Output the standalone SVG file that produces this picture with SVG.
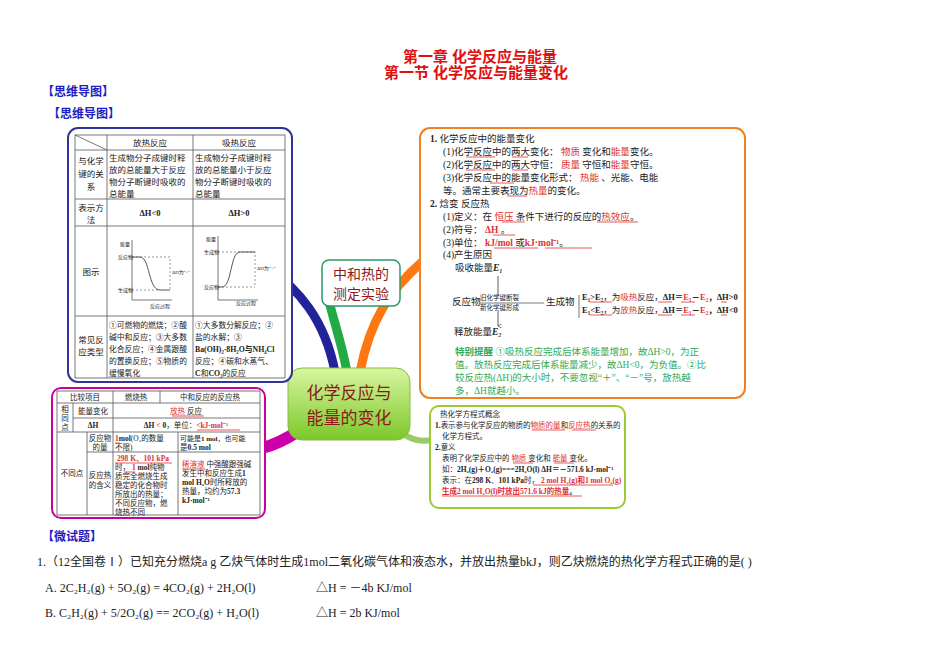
<svg xmlns="http://www.w3.org/2000/svg" width="950" height="672" viewBox="0 0 950 672">
<defs>
<style>
.t{font-family:"Liberation Serif","Noto Sans CJK SC",serif;fill:#222}
.s{font-size:9.5px}
.ls{font-size:8.5px}
.xs{font-size:7.5px}
.r{fill:#e03030}
.b{font-weight:bold}
.ln{stroke:#555;stroke-width:0.8;fill:none}
.u{stroke:#e03030;stroke-width:0.8}
.h{font-family:"Liberation Sans","Noto Sans CJK SC",sans-serif;font-weight:bold}
</style>
<linearGradient id="cg" x1="0" y1="0" x2="0" y2="1"><stop offset="0" stop-color="#d8f5a0"/><stop offset="1" stop-color="#7cc82a"/></linearGradient>
<marker id="ar" markerWidth="6" markerHeight="6" refX="3" refY="5" orient="auto"><path d="M0,0 L3,5 L6,0" fill="none" stroke="#333" stroke-width="0.8"/></marker>
</defs>
<rect width="950" height="672" fill="#fff"/>
<text class="h" x="480" y="62" font-size="15" fill="#e01010" text-anchor="middle">第一章  化学反应与能量</text>
<text class="h" x="476" y="78" font-size="15" fill="#e01010" text-anchor="middle">第一节  化学反应与能量变化</text>
<text class="h" x="42" y="96" font-size="12" fill="#2020c0">【思维导图】</text>
<text class="h" x="48" y="118" font-size="12" fill="#2020c0">【思维导图】</text>

<g id="connectors" fill="none" stroke-linecap="round">
<path d="M335,372 C325,320 300,290 262,262" stroke="#22229a" stroke-width="9"/>
<path d="M347,372 C342,345 335,325 330,305" stroke="#22aa44" stroke-width="9"/>
<path d="M360,372 C370,320 390,290 422,262" stroke="#ff7711" stroke-width="9"/>
<path d="M300,430 C285,440 275,445 262,448" stroke="#cc00aa" stroke-width="12"/>
<path d="M400,432 C412,440 420,442 432,440" stroke="#99cc66" stroke-width="6"/>
</g>

<g id="center">
<rect x="288" y="368" width="122" height="72" rx="14" fill="url(#cg)" stroke="#88bb44"/>
<text class="t" x="349" y="399" font-size="17" text-anchor="middle" style="fill:#8b1a1a">化学反应与</text>
<text class="t" x="349" y="424" font-size="17" text-anchor="middle" style="fill:#8b1a1a">能量的变化</text>
</g>
<g id="node-zhh">
<rect x="322" y="260" width="78" height="46" rx="7" fill="#fff" stroke="#2a9a6a" stroke-width="1.5"/>
<text class="t" x="361" y="279" font-size="14" text-anchor="middle" style="fill:#8b1a1a">中和热的</text>
<text class="t" x="361" y="299" font-size="14" text-anchor="middle" style="fill:#8b1a1a">测定实验</text>
</g>

<g id="box-left">
<rect x="68" y="128" width="224" height="254" rx="10" fill="#fff" stroke="#333399" stroke-width="2"/>
<rect x="75" y="135" width="210" height="243" class="ln"/>
<path class="ln" d="M107,135V378M193,135V378M75,150H285M75,199H285M75,226H285M75,316H285M75,135L107,150"/>
<g class="t ls">
<text x="150" y="146" text-anchor="middle">放热反应</text>
<text x="239" y="146" text-anchor="middle">吸热反应</text>
<text x="91" y="164" text-anchor="middle">与化学</text>
<text x="91" y="177" text-anchor="middle">键的关</text>
<text x="91" y="190" text-anchor="middle">系</text>
<text x="109" y="161">生成物分子成键时释</text>
<text x="109" y="173">放的总能量大于反应</text>
<text x="109" y="185">物分子断键时吸收的</text>
<text x="109" y="197">总能量</text>
<text x="195" y="161">生成物分子成键时释</text>
<text x="195" y="173">放的总能量小于反应</text>
<text x="195" y="185">物分子断键时吸收的</text>
<text x="195" y="197">总能量</text>
<text x="91" y="211" text-anchor="middle">表示方</text>
<text x="91" y="223" text-anchor="middle">法</text>
<text x="150" y="216" text-anchor="middle" class="b">ΔH&lt;0</text>
<text x="239" y="216" text-anchor="middle" class="b">ΔH&gt;0</text>
<text x="91" y="275" text-anchor="middle">图示</text>
<text x="91" y="343" text-anchor="middle">常见反</text>
<text x="91" y="355" text-anchor="middle">应类型</text>
</g>
<g class="t" font-size="7.8">
<text x="109" y="328">①可燃物的燃烧；②酸</text>
<text x="109" y="340">碱中和反应；③大多数</text>
<text x="109" y="352">化合反应；④金属跟酸</text>
<text x="109" y="364">的置换反应；⑤物质的</text>
<text x="109" y="376">缓慢氧化</text>
<text x="195" y="328">①大多数分解反应；②</text>
<text x="195" y="340">盐的水解；③</text>
<text x="195" y="352" class="b">Ba(OH)₂·8H₂O与NH₄Cl</text>
<text x="195" y="364">反应；④碳和水蒸气、</text>
<text x="195" y="376"><tspan class="b">C</tspan>和<tspan class="b">CO₂</tspan>的反应</text>
</g>
<path class="ln" d="M132,300V240M132,300H172" stroke="#333"/>
<path d="M132,257H140C150,257 148,290 160,290H170" fill="none" stroke="#555"/>
<path d="M132,257H170V290M132,290H160" fill="none" stroke="#555" stroke-dasharray="2,2" stroke-width="0.6"/>
<text class="t" x="120" y="246" font-size="5">能量</text>
<text class="t" x="118" y="259" font-size="5">反应物</text>
<text class="t" x="118" y="292" font-size="5">生成物</text>
<text class="t" x="150" y="308" font-size="5">反应过程</text>
<text class="t" x="172" y="274" font-size="5">ΔH为"-"</text>
<path class="ln" d="M218,300V236M218,300H258" stroke="#333"/>
<path d="M218,287H222C232,287 230,252 240,252H255" fill="none" stroke="#555"/>
<path d="M218,252H255V287M218,287H255" fill="none" stroke="#555" stroke-dasharray="2,2" stroke-width="0.6"/>
<text class="t" x="206" y="241" font-size="5">能量</text>
<text class="t" x="204" y="254" font-size="5">生成物</text>
<text class="t" x="204" y="289" font-size="5">反应物</text>
<text class="t" x="236" y="305" font-size="5">反应过程</text>
<text class="t" x="257" y="270" font-size="5">ΔH为"+"</text>
</g>

<g id="box-right">
<rect x="420" y="128" width="325" height="270" rx="10" fill="#fff" stroke="#f08020" stroke-width="2"/>
<g class="t s">
<text x="430" y="142"><tspan class="b">1.</tspan> 化学反应中的能量变化</text>
<text x="443" y="155">(1)化学反应中的两大变化：<tspan class="r">  物质 </tspan>变化和<tspan class="r">能量</tspan>变化。</text>
<text x="443" y="168">(2)化学反应中的两大守恒：<tspan class="r">  质量 </tspan>守恒和<tspan class="r">能量</tspan>守恒。</text>
<text x="443" y="181">(3)化学反应中的能量变化形式：<tspan class="r"> 热能 </tspan>、光能、电能</text>
<text x="443" y="194">等。通常主要表现为<tspan class="r">热量</tspan>的变化。</text>
<text x="430" y="207"><tspan class="b">2.</tspan> 焓变   反应热</text>
<text x="443" y="220">(1)定义：在<tspan class="r"> 恒压 </tspan>条件下进行的反应的<tspan class="r">热效应</tspan>。</text>
<text x="443" y="233">(2)符号：<tspan class="r b"> ΔH </tspan>。</text>
<text x="443" y="246">(3)单位：<tspan class="r b"> kJ/mol </tspan>或<tspan class="r b">kJ·mol⁻¹</tspan>。</text>
<text x="443" y="258">(4)产生原因</text>
<text x="455" y="271">吸收能量<tspan class="b" font-style="italic">E₁</tspan></text>
<text x="452" y="305">反应物</text>
<text x="582" y="300" font-size="8.5"><tspan class="b">E₁&gt;E₂</tspan>，为<tspan class="r">吸热</tspan>反应，<tspan class="b">ΔH＝<tspan class="r">E₁</tspan>－<tspan class="r">E₂</tspan>，ΔH&gt;0</tspan></text>
<text x="582" y="313" font-size="8.5"><tspan class="b">E₁&lt;E₂</tspan>，为<tspan class="r">放热</tspan>反应，<tspan class="b">ΔH＝<tspan class="r">E₁</tspan>－<tspan class="r">E₂</tspan>，ΔH&lt;0</tspan></text>
<text x="546" y="305">生成物</text>
<text x="454" y="335">释放能量<tspan class="b" font-style="italic">E₂</tspan></text>
</g>
<text class="t" x="480" y="300" font-size="6.5">旧化学键断裂</text>
<text class="t" x="480" y="310" font-size="6.5">新化学键形成</text>
<path class="ln" d="M480,303H544M579,295V318"/>
<path d="M498,276V296M498,310V326" stroke="#333" stroke-width="0.8" marker-end="url(#ar)"/>
<path class="u" d="M466,157H495M512,157H528M466,170H495M512,170H528M490,183H514M507,196H527M502,222H525M597,222H638M493,235H515M494,248H538M545,248H592M590,302H612M658,302H672M681,302H695M721,302H727M590,315H612M658,315H672M681,315H695M721,315H727"/>
<g class="t s" style="fill:#33aa55">
<text x="455" y="355"><tspan class="b">特别提醒</tspan>  ①吸热反应完成后体系能量增加，故ΔH&gt;0，为正</text>
<text x="455" y="368">值。放热反应完成后体系能量减少，故ΔH&lt;0，为负值。②比</text>
<text x="455" y="381">较反应热(ΔH)的大小时，不要忽视“＋”、“－”号，放热越</text>
<text x="455" y="394">多，ΔH就越小。</text>
</g>
</g>

<g id="box-bottom-left">
<rect x="52" y="388" width="213" height="130" rx="9" fill="#fff" stroke="#cc0099" stroke-width="2"/>
<rect x="57" y="391" width="203" height="124" class="ln"/>
<path class="ln" d="M57,403H260M73,418H260M57,432H260M87,452H260M113,391V515M160,391V403M178,432V515M73,403V432M87,432V515"/>
<g class="t xs">
<text x="85" y="400" text-anchor="middle">比较项目</text>
<text x="136" y="400" text-anchor="middle">燃烧热</text>
<text x="210" y="400" text-anchor="middle">中和反应的反应热</text>
<text x="65" y="412" text-anchor="middle">相</text>
<text x="65" y="421" text-anchor="middle">同</text>
<text x="65" y="430" text-anchor="middle">点</text>
<text x="93" y="414" text-anchor="middle">能量变化</text>
<text x="93" y="428" text-anchor="middle" class="b">ΔH</text>
<text x="186" y="414" text-anchor="middle"><tspan class="r">放热</tspan> 反应</text>
<text x="186" y="428" text-anchor="middle"><tspan class="b">ΔH <tspan class="r">&lt;</tspan> 0</tspan>，单位：<tspan class="r b">&lt;kJ·mol⁻¹</tspan></text>
<text x="72" y="476" text-anchor="middle">不同点</text>
<text x="100" y="441" text-anchor="middle">反应物</text>
<text x="100" y="450" text-anchor="middle">的量</text>
<text x="100" y="478" text-anchor="middle">反应热</text>
<text x="100" y="488" text-anchor="middle">的含义</text>
<text x="115" y="441"><tspan class="r b">1</tspan><tspan class="b">mol</tspan>(O₂的数量</text>
<text x="115" y="450">不限)</text>
<text x="180" y="441" font-size="7">可能是<tspan class="b">1 mol</tspan>，也可能</text>
<text x="180" y="450">是<tspan class="b">0.5 mol</tspan></text>
<text x="117" y="461" class="r b">298 K、101 kPa</text>
<text x="115" y="470">时，<tspan class="r b"> 1 </tspan><tspan class="b">mol</tspan>纯物</text>
<text x="115" y="479">质完全燃烧生成</text>
<text x="115" y="488">稳定的化合物时</text>
<text x="115" y="497">所放出的热量；</text>
<text x="115" y="506">不同反应物，燃</text>
<text x="115" y="515">烧热不同</text>
<text x="182" y="467"><tspan class="r">稀溶液</tspan> 中强酸跟强碱</text>
<text x="182" y="476">发生中和反应生成<tspan class="b">1</tspan></text>
<text x="182" y="485"><tspan class="b">mol H₂O</tspan>时所释放的</text>
<text x="182" y="494">热量，均约为<tspan class="b">57.3</tspan></text>
<text x="182" y="503" class="b">kJ·mol⁻¹</text>
</g>
<path class="u" d="M172,416H204M197,430H240M115,443H120M115,463H172M124,472H135M182,469H205"/>
</g>

<g id="box-bottom-right">
<rect x="430" y="406" width="195" height="102" rx="9" fill="#fff" stroke="#99cc33" stroke-width="2"/>
<g class="t" font-size="7.5">
<text x="440" y="417">热化学方程式概念</text>
<text x="435" y="428"><tspan class="b">1.</tspan>表示参与化学反应的物质的<tspan class="r">物质的量</tspan>和<tspan class="r">反应热</tspan>的关系的</text>
<text x="442" y="439">化学方程式。</text>
<text x="435" y="450"><tspan class="b">2.</tspan>意义</text>
<text x="442" y="461">表明了化学反应中的<tspan class="r"> 物质 </tspan>变化和<tspan class="r"> 能量 </tspan>变化。</text>
<text x="442" y="472">如：<tspan class="b">2H₂(g)＋O₂(g)===2H₂O(l)   ΔH＝－571.6 kJ·mol⁻¹</tspan></text>
<text x="442" y="483">表示：在<tspan class="b">298 K</tspan>、<tspan class="b">101 kPa</tspan>时，<tspan class="r b"> 2 mol H₂(g)和1 mol O₂(g)</tspan></text>
<text x="442" y="494" class="r b">生成2 mol H₂O(l)时放出571.6 kJ的热量<tspan style="fill:#222">。</tspan></text>
</g>
<path class="u" d="M532,430H565M572,430H596M513,463H533M554,463H574M533,485H613M442,496H582"/>
</g>

<g class="t" font-size="12">
<text class="h" x="42" y="541" font-size="12" fill="#2020c0">【微试题】</text>
<text x="37" y="566">1.（12全国卷Ⅰ）已知充分燃烧a g 乙炔气体时生成1mol二氧化碳气体和液态水，并放出热量bkJ，则乙炔燃烧的热化学方程式正确的是(      )</text>
<text x="45" y="592">A. 2C₂H₂(g) + 5O₂(g) = 4CO₂(g) + 2H₂O(l)</text>
<text x="316" y="592">△H = －4b KJ/mol</text>
<text x="45" y="617">B. C₂H₂(g) + 5/2O₂(g) == 2CO₂(g) + H₂O(l)</text>
<text x="316" y="617">△H = 2b KJ/mol</text>
</g>
</svg>
